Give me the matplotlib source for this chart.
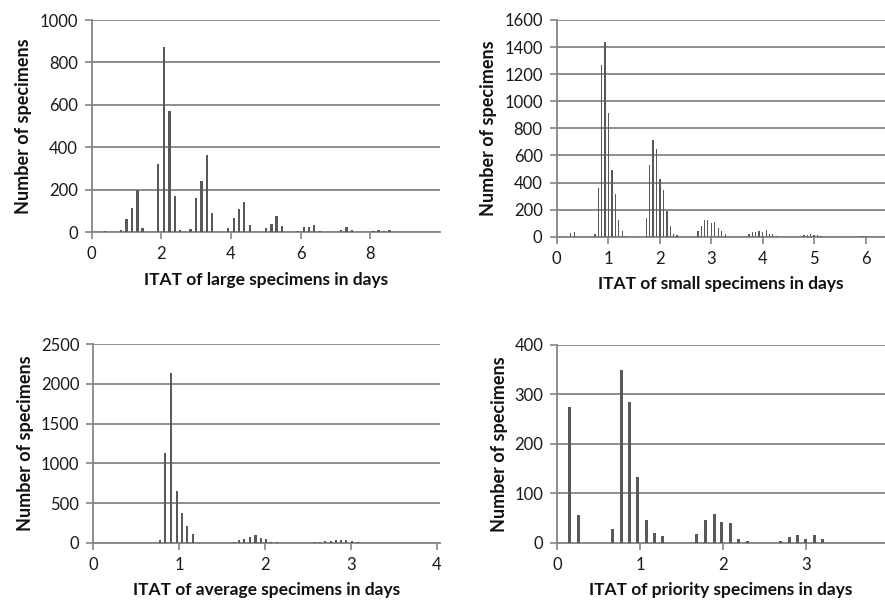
import matplotlib
matplotlib.use("Agg")
import matplotlib.pyplot as plt

# ── Data ─────────────────────────────────────────────────────────────────────
large_days = [0.38, 0.84, 1.00, 1.15, 1.31, 1.46, 1.91, 2.07, 2.23, 2.39, 2.53,
              2.84, 3.00, 3.15, 3.31, 3.46, 3.92, 4.08, 4.23, 4.38, 4.55,
              5.00, 5.16, 5.31, 5.47, 5.62, 5.93, 6.09, 6.24, 6.39, 6.55,
              7.00, 7.16, 7.31, 7.47, 7.62, 8.09, 8.24, 8.39, 8.55, 9.17, 9.32]
large_counts = [3, 11, 63, 115, 200, 19, 320, 873, 571, 168, 9,
                16, 162, 240, 363, 91, 17, 64, 108, 143, 35,
                19, 39, 75, 27, 2, 5, 24, 24, 35, 6,
                2, 9, 22, 9, 1, 6, 11, 6, 9, 2, 2]

small_days = [0.277, 0.342,
              0.748, 0.813, 0.877, 0.942, 1.006, 1.077, 1.142, 1.206, 1.277, 1.342,
              1.742, 1.806, 1.871, 1.942, 2.006, 2.071, 2.142, 2.206, 2.271, 2.335,
              2.742, 2.806, 2.871, 2.935, 3.006, 3.071, 3.135, 3.200, 3.271,
              3.735, 3.800, 3.865, 3.929, 4.000, 4.065, 4.129, 4.194, 4.265,
              4.800, 4.865, 4.929, 4.994, 5.065, 5.129,
              5.923, 5.987]
small_counts = [30, 32,
                17, 362, 1268, 1435, 911, 490, 315, 121, 42, 5,
                135, 529, 714, 645, 423, 345, 187, 76, 17, 10,
                44, 81, 121, 126, 101, 111, 64, 39, 20,
                17, 32, 32, 42, 34, 47, 22, 17, 5,
                12, 12, 17, 12, 10, 7,
                7, 7]

average_days = [0.78, 0.84, 0.91, 0.97, 1.03, 1.09, 1.16,
                1.64, 1.70, 1.76, 1.83, 1.89, 1.95, 2.01, 2.07, 2.14,
                2.58, 2.64, 2.70, 2.77, 2.83, 2.89, 2.95, 3.02, 3.08]
average_counts = [30, 1130, 2140, 650, 380, 210, 110,
                  15, 30, 50, 70, 95, 65, 50, 15, 5,
                  5, 15, 20, 25, 30, 35, 30, 20, 5]

priority_days = [0.15, 0.25, 0.67, 0.77, 0.87, 0.97, 1.07, 1.17, 1.27,
                 1.68, 1.79, 1.89, 1.98, 2.09, 2.19, 2.29,
                 2.69, 2.80, 2.90, 2.99, 3.10, 3.20]
priority_counts = [275, 55, 28, 348, 285, 132, 45, 20, 13,
                   17, 45, 57, 42, 40, 8, 3,
                   3, 12, 15, 8, 15, 7]

# ── Style ────────────────────────────────────────────────────────────────────
plt.rcParams["font.family"] = ["Lato", "DejaVu Sans"]
BAR = "#595959"
GRID = "#858585"
W, H = 885, 602

fig = plt.figure(figsize=(W / 100, H / 100), dpi=100)
fig.patch.set_facecolor("white")


def px_axes(left, top, right, bottom):
    return fig.add_axes([left / W, 1 - bottom / H, (right - left) / W, (bottom - top) / H])


panels = [
    # (box px, days, counts, bar width, xlim, xticks, ylim, ystep, xlabel)
    ((91.7, 20, 440, 232), large_days, large_counts, 0.07, 10.0,
     [0, 2, 4, 6, 8], 1000, 200, "ITAT of large specimens in days"),
    ((556.5, 20, 885, 236.7), small_days, small_counts, 0.024, 6.37,
     [0, 1, 2, 3, 4, 5, 6], 1600, 200, "ITAT of small specimens in days"),
    ((93.3, 344.3, 440, 542.7), average_days, average_counts, 0.024, 4.04,
     [0, 1, 2, 3, 4], 2500, 500, "ITAT of average specimens in days"),
    ((557.3, 344.7, 885, 542.7), priority_days, priority_counts, 0.036, 3.95,
     [0, 1, 2, 3], 400, 100, "ITAT of priority specimens in days"),
]

for box, days, counts, bw, xmax, xticks, ymax, ystep, xlabel in panels:
    ax = px_axes(*box)
    ax.bar(days, counts, width=bw, color=BAR, linewidth=0, zorder=3)
    ax.set_xlim(0, xmax)
    ax.set_ylim(0, ymax)
    ax.set_xticks(xticks)
    ax.set_yticks(range(0, ymax + 1, ystep))
    ax.yaxis.grid(True, color=GRID, linewidth=1.3, zorder=0)
    ax.set_axisbelow(True)
    for side in ("top", "right"):
        ax.spines[side].set_visible(False)
    for side in ("left", "bottom"):
        ax.spines[side].set_color(GRID)
        ax.spines[side].set_linewidth(1.3)
    ax.tick_params(axis="both", colors=GRID, length=5, width=1.2,
                   labelcolor="#1a1a1a", labelsize=12, pad=5)
    ax.set_ylabel("Number of specimens", fontsize=13, fontweight="bold",
                  color="#111111", labelpad=5)
    ax.set_xlabel(xlabel, fontsize=12.5, fontweight="bold",
                  color="#111111", labelpad=7)

plt.savefig("out.png", dpi=100, facecolor="white")
